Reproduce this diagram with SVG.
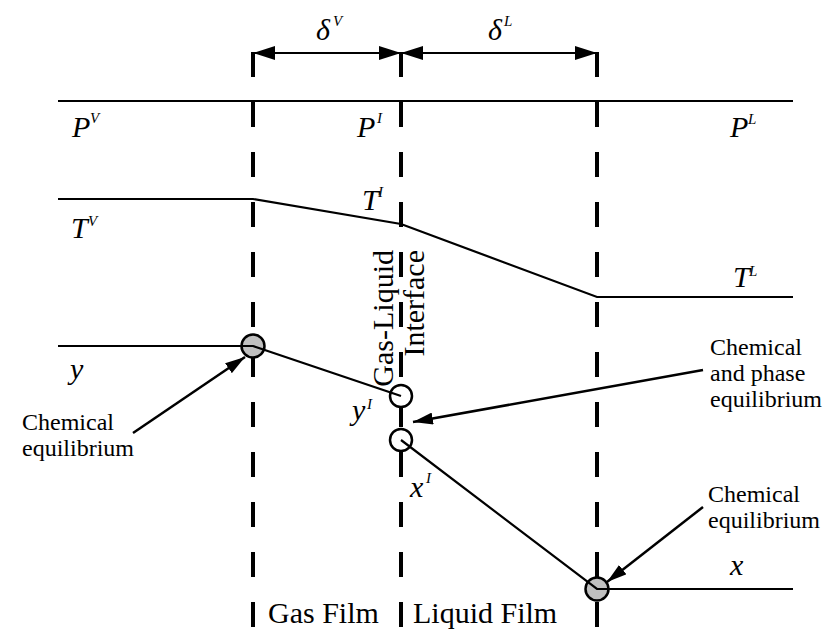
<svg xmlns="http://www.w3.org/2000/svg" width="824" height="630" viewBox="0 0 824 630">
<style>
.lbl{font-family:"Liberation Serif","Times New Roman",serif;font-style:italic;font-size:30px;fill:#000}
.sup{font-family:"Liberation Serif","Times New Roman",serif;font-style:italic;font-size:15px;fill:#000}
.txt{font-family:"Liberation Serif","Times New Roman",serif;font-size:30px;fill:#000}
.note{font-family:"Liberation Serif","Times New Roman",serif;font-size:24px;fill:#000}
.dash{stroke:#000;stroke-width:4;stroke-dasharray:25 25;fill:none}
.prof{stroke:#000;stroke-width:2.2;fill:none}
.ptr{stroke:#000;stroke-width:2.5;fill:none;marker-end:url(#ph)}
.dim{stroke:#000;stroke-width:2.2;fill:none;marker-start:url(#ah);marker-end:url(#ah)}
.eq{fill:#c0c0c0;stroke:#000;stroke-width:2.5}
.open{fill:#fff;stroke:#000;stroke-width:2.5}
</style>
<defs>
<marker id="ah" viewBox="0 0 22 14" refX="22" refY="7" markerWidth="22" markerHeight="14" markerUnits="userSpaceOnUse" orient="auto-start-reverse"><path d="M0,0 L22,7 L0,14 z" fill="#000"/></marker>
<marker id="ph" viewBox="0 0 20 12" refX="20" refY="6" markerWidth="20" markerHeight="12" markerUnits="userSpaceOnUse" orient="auto"><path d="M0,0 L20,6 L0,12 z" fill="#000"/></marker>
</defs>
<rect width="824" height="630" fill="#fff"/>

<g id="boundaries">
<line class="dash" x1="253" y1="52" x2="253" y2="627"/>
<line class="dash" x1="401" y1="52" x2="401" y2="627"/>
<line class="dash" x1="597" y1="52" x2="597" y2="627"/>
</g>

<g id="dimensions">
<line class="dim" x1="253" y1="53" x2="401" y2="53"/>
<line class="dim" x1="401" y1="53" x2="597" y2="53"/>
<text class="lbl" x="316" y="40">δ</text><text class="sup" x="333" y="26">V</text>
<text class="lbl" x="488" y="40">δ</text><text class="sup" x="504" y="26">L</text>
</g>

<g id="node-eq-gas"><circle class="eq" cx="253" cy="346" r="11.5"/></g>
<g id="node-yI"><circle class="open" cx="401" cy="396" r="11"/></g>
<g id="node-xI"><circle class="open" cx="401" cy="440" r="11"/></g>
<g id="node-eq-liq"><circle class="eq" cx="597" cy="589" r="11.5"/></g>

<g id="connectors">
<polyline class="prof" points="58,101 793,101"/>
<polyline class="prof" points="58,199 253,199 401,224 597,297 793,297"/>
<polyline class="prof" points="58,346 253,346 401,396"/>
<polyline class="prof" points="401,440 597,589 793,589"/>
<line class="ptr" x1="133" y1="433" x2="245" y2="357"/>
<line class="ptr" x1="703" y1="370" x2="413" y2="422"/>
<line class="ptr" x1="703" y1="507" x2="607" y2="582"/>
</g>

<g id="labels">
<text class="lbl" x="72" y="137">P</text><text class="sup" x="90" y="123">V</text>
<text class="lbl" x="357" y="137">P</text><text class="sup" x="377" y="123">I</text>
<text class="lbl" x="730" y="137">P</text><text class="sup" x="748" y="124">L</text>
<text class="lbl" x="71" y="238">T</text><text class="sup" x="88" y="226">V</text>
<text class="lbl" x="362" y="210">T</text><text class="sup" x="378" y="197">I</text>
<text class="lbl" x="733" y="287">T</text><text class="sup" x="749" y="276">L</text>
<text class="lbl" x="70" y="379">y</text>
<text class="lbl" x="352" y="420">y</text><text class="sup" x="367" y="409">I</text>
<text class="lbl" x="410" y="497">x</text><text class="sup" x="426" y="483">I</text>
<text class="lbl" x="730" y="575">x</text>
<g transform="translate(393,250) rotate(-90)"><text class="txt" x="0" y="0" text-anchor="end">Gas-Liquid</text></g>
<g transform="translate(424,250) rotate(-90)"><text class="txt" x="0" y="0" text-anchor="end">Interface</text></g>
<text class="txt" x="268" y="623">Gas Film</text>
<text class="txt" x="413" y="623">Liquid Film</text>
</g>

<g id="note-left"><text class="note" x="22" y="430">Chemical</text><text class="note" x="22" y="456">equilibrium</text></g>
<g id="note-mid"><text class="note" x="710" y="355">Chemical</text><text class="note" x="710" y="381">and phase</text><text class="note" x="710" y="407">equilibrium</text></g>
<g id="note-right"><text class="note" x="708" y="502">Chemical</text><text class="note" x="708" y="528">equilibrium</text></g>
</svg>
